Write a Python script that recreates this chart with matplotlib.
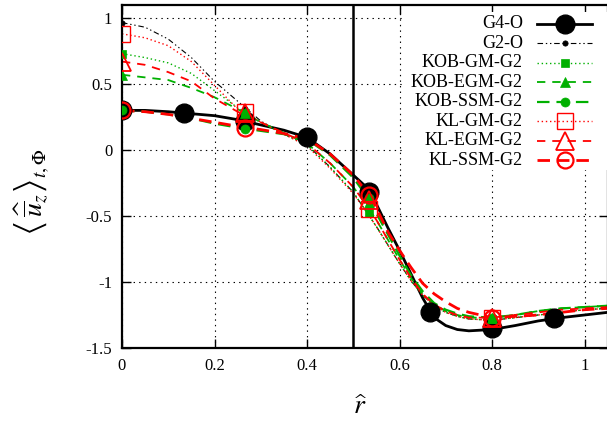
import matplotlib
matplotlib.use("Agg")
import matplotlib.pyplot as plt
from matplotlib.patches import Rectangle

plt.rcParams['font.family'] = ['Liberation Serif', 'DejaVu Serif']
plt.rcParams['mathtext.fontset'] = 'stix'
plt.rcParams['lines.scale_dashes'] = False

# ---------------- data ----------------
r_line = [0, 0.05, 0.1, 0.15, 0.2, 0.25, 0.3, 0.35, 0.4, 0.45, 0.5, 0.525, 0.55,
          0.575, 0.6, 0.625, 0.65, 0.675, 0.7, 0.725, 0.75, 0.8, 0.85, 0.9, 0.95,
          1.0, 1.05]

g4_line = [0.30, 0.30, 0.29, 0.275, 0.26, 0.23, 0.19, 0.15, 0.095, -0.03, -0.19,
           -0.27, -0.41, -0.59, -0.76, -0.94, -1.12, -1.27, -1.33, -1.36, -1.37,
           -1.36, -1.33, -1.295, -1.27, -1.25, -1.23]
g2_line = [0.965, 0.93, 0.84, 0.70, 0.52, 0.37, 0.22, 0.12, 0.04, -0.13, -0.32,
           -0.45, -0.58, -0.72, -0.86, -0.99, -1.10, -1.18, -1.23, -1.26, -1.28,
           -1.29, -1.27, -1.25, -1.23, -1.21, -1.20]
kob_gm_line = [0.73, 0.70, 0.66, 0.58, 0.45, 0.32, 0.21, 0.12, 0.04, -0.13, -0.32,
               -0.45, -0.58, -0.72, -0.86, -0.99, -1.10, -1.18, -1.23, -1.26, -1.28,
               -1.29, -1.27, -1.25, -1.23, -1.21, -1.20]
kob_egm_line = [0.57, 0.55, 0.53, 0.47, 0.40, 0.31, 0.21, 0.13, 0.05, -0.10, -0.28,
                -0.40, -0.53, -0.68, -0.83, -0.97, -1.09, -1.17, -1.22, -1.25, -1.27,
                -1.27, -1.25, -1.22, -1.20, -1.19, -1.18]
kob_ssm_line = [0.30, 0.29, 0.27, 0.24, 0.20, 0.17, 0.145, 0.12, 0.08, -0.04, -0.21,
                -0.33, -0.48, -0.64, -0.80, -0.95, -1.07, -1.16, -1.21, -1.24, -1.26,
                -1.27, -1.25, -1.22, -1.20, -1.19, -1.18]
kl_gm_line = [0.88, 0.85, 0.79, 0.67, 0.49, 0.31, 0.21, 0.12, 0.03, -0.14, -0.33,
              -0.45, -0.58, -0.72, -0.86, -0.99, -1.10, -1.18, -1.23, -1.26, -1.28,
              -1.29, -1.27, -1.25, -1.23, -1.21, -1.20]
kl_egm_line = [0.67, 0.645, 0.59, 0.52, 0.39, 0.29, 0.21, 0.13, 0.05, -0.10, -0.28,
               -0.40, -0.53, -0.68, -0.83, -0.97, -1.09, -1.17, -1.22, -1.25, -1.27,
               -1.27, -1.25, -1.23, -1.21, -1.20, -1.19]
kl_ssm_line = [0.30, 0.29, 0.27, 0.24, 0.21, 0.18, 0.155, 0.125, 0.085, -0.03, -0.19,
               -0.30, -0.44, -0.62, -0.76, -0.89, -1.01, -1.09, -1.15, -1.20, -1.23,
               -1.27, -1.26, -1.25, -1.23, -1.21, -1.20]

r_mark_g4 = [0, 2/15, 4/15, 6/15, 8/15, 10/15, 12/15, 14/15]
g4_mark = [0.30, 0.28, 0.22, 0.095, -0.32, -1.23, -1.35, -1.27]

r_mark = [0, 4/15, 8/15, 12/15]
g2_mark = [0.965, 0.31, -0.40, -1.29]
kob_gm_mark = [0.73, 0.28, -0.48, -1.28]
kob_egm_mark = [0.57, 0.28, -0.40, -1.27]
kob_ssm_mark = [0.30, 0.16, -0.36, -1.27]
kl_gm_mark = [0.88, 0.29, -0.45, -1.27]
kl_egm_mark = [0.67, 0.28, -0.38, -1.27]
kl_ssm_mark = [0.30, 0.17, -0.34, -1.27]

labels = ['G4-O', 'G2-O', 'KOB-GM-G2', 'KOB-EGM-G2', 'KOB-SSM-G2',
          'KL-GM-G2', 'KL-EGM-G2', 'KL-SSM-G2']

x_ticks = [0, 0.2, 0.4, 0.6, 0.8, 1.0]
x_ticklabels = ['0', '0.2', '0.4', '0.6', '0.8', '1']
y_ticks = [-1.5, -1.0, -0.5, 0, 0.5, 1.0]
y_ticklabels = ['-1.5', '-1', '-0.5', '0', '0.5', '1']

# ---------------- styles ----------------
GREEN = '#00b000'
RED = '#ff0000'
styles = [
    dict(color='black', ls='-', lw=2.0, marker='o', ms=13.5, mfc='black', mec='black', mew=1),
    dict(color='black', ls=(0, (4, 2, 1, 2, 1, 2)), lw=0.8, marker='o', ms=3.8, mfc='black', mec='black', mew=0.5),
    dict(color=GREEN, ls=(0, (1, 2)), lw=1.0, marker='s', ms=6, mfc=GREEN, mec=GREEN, mew=0.5),
    dict(color=GREEN, ls=(0, (6, 5)), lw=1.3, marker='^', ms=6.5, mfc=GREEN, mec=GREEN, mew=0.5),
    dict(color=GREEN, ls=(0, (9, 5)), lw=1.6, marker='o', ms=6.5, mfc=GREEN, mec=GREEN, mew=0.5),
    dict(color=RED, ls=(0, (1, 2)), lw=1.0, marker='s', ms=12, mfc='none', mec=RED, mew=1.0),
    dict(color=RED, ls=(0, (6, 5)), lw=1.3, marker='^', ms=12.5, mfc='none', mec=RED, mew=1.3),
    dict(color=RED, ls=(0, (9, 5)), lw=2.0, marker='o', ms=11.5, mfc='none', mec=RED, mew=1.6),
]

lines = [g4_line, g2_line, kob_gm_line, kob_egm_line, kob_ssm_line,
         kl_gm_line, kl_egm_line, kl_ssm_line]
marks = [g4_mark, g2_mark, kob_gm_mark, kob_egm_mark, kob_ssm_mark,
         kl_gm_mark, kl_egm_mark, kl_ssm_mark]
mark_rs = [r_mark_g4] + [r_mark] * 7

# ---------------- figure ----------------
W, H = 607, 429
fig = plt.figure(figsize=(W / 100, H / 100), dpi=100)
x0px, x1px = 122, 122 + 1.05 * 462.5
ytop_px, ybot_px = 150 - 1.1 * 132, 348
ax = fig.add_axes([x0px / W, 1 - ybot_px / H, (x1px - x0px) / W, (ybot_px - ytop_px) / H])
ax.set_xlim(0, 1.05)
ax.set_ylim(-1.5, 1.1)

ax.set_xticks(x_ticks)
ax.set_xticklabels(x_ticklabels)
ax.set_yticks(y_ticks)
ax.set_yticklabels(y_ticklabels)
ax.tick_params(direction='in', top=True, right=True, length=6.5, width=1.0,
               labelsize=12, pad=7)
ax.grid(True, color='black', ls=(0, (1, 3)), lw=0.8)
for s in ax.spines.values():
    s.set_linewidth(1.6)

ax.axvline(0.5, color='black', lw=1.8, zorder=3)

order = [1, 2, 3, 4, 5, 6, 7, 0]
for i in order:
    st = styles[i]
    ax.plot(r_line, lines[i], color=st['color'], ls=st['ls'], lw=st['lw'], zorder=2 + i * 0.01)
    ax.plot(mark_rs[i], marks[i], ls='none', marker=st['marker'], ms=st['ms'],
            mfc=st['mfc'], mec=st['mec'], mew=st['mew'], zorder=4 + i * 0.01)

# ---------------- legend (gnuplot-like, text right aligned) ----------------
def fx(px):
    return (px - x0px) / (x1px - x0px)

def fy(py):
    return (ybot_px - py) / (ybot_px - ytop_px)

ax.add_patch(Rectangle((fx(402), fy(170)), fx(607) - fx(402), fy(12) - fy(170),
                       transform=ax.transAxes, facecolor='white', edgecolor='none',
                       zorder=6, clip_on=False))
row0, dy = 24, 19.45
for k, lab in enumerate(labels):
    py = row0 + k * dy
    st = styles[k]
    ax.text(fx(523), fy(py), lab, transform=ax.transAxes, ha='right', va='center',
            fontsize=13, zorder=7)
    ax.plot([fx(537), fx(592)], [fy(py), fy(py)], transform=ax.transAxes,
            color=st['color'], ls=st['ls'], lw=st['lw'], zorder=7, clip_on=False)
    ax.plot([fx(564.5)], [fy(py)], transform=ax.transAxes, ls='none',
            marker=st['marker'], ms=st['ms'], mfc=st['mfc'], mec=st['mec'],
            mew=st['mew'], zorder=8, clip_on=False)

fig.text(32 / W, 1 - 192 / H,
         r'$\left\langle\,\widehat{\overline{u}}_z\right\rangle_{t,\Phi}$',
         rotation=90, ha='center', va='center', fontsize=20)
fig.text(360 / W, 1 - 408 / H, r'$\widehat{r}$', ha='center', va='center', fontsize=20)

fig.savefig('out.png', dpi=100)
